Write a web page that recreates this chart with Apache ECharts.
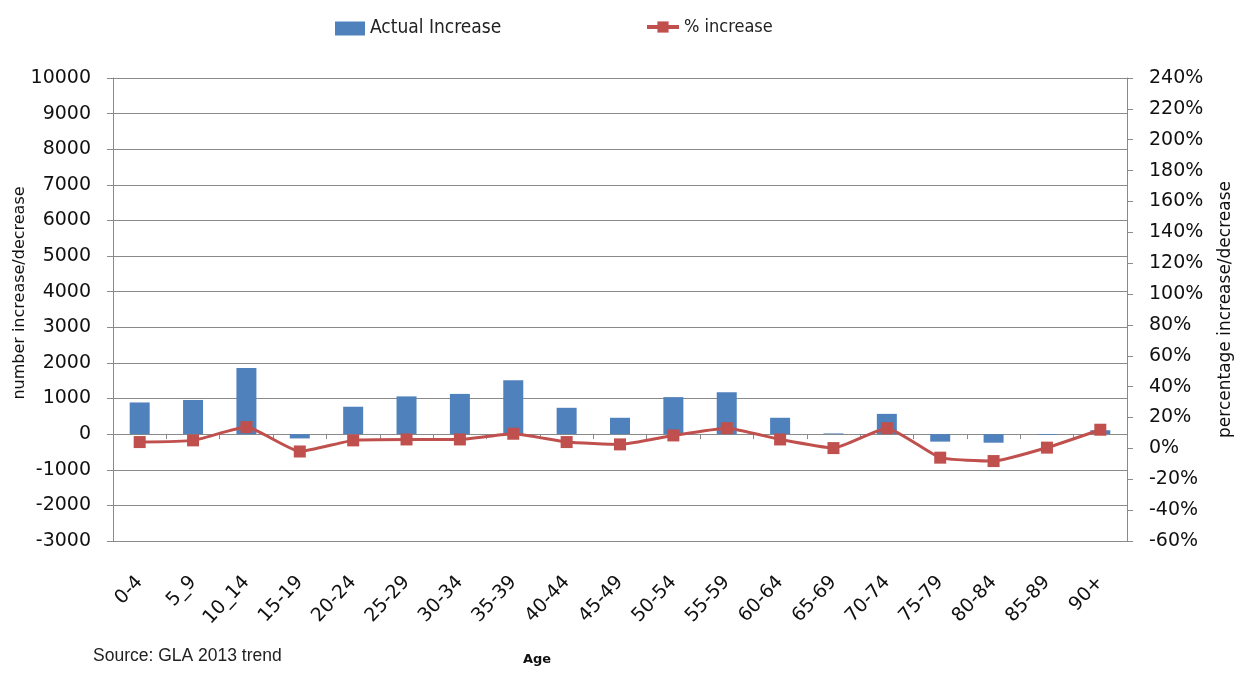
<!DOCTYPE html>
<html>
<head>
<meta charset="utf-8">
<script src="https://cdn.jsdelivr.net/npm/echarts@6/dist/echarts.min.js"></script>
<style>
  html, body { margin: 0; padding: 0; background: #fff; }
  #chart { width: 1241px; height: 675px; }
</style>
</head>
<body>
<div id="chart"></div>
<script>
'use strict';

var ageGroups = ['0-4', '5_9', '10_14', '15-19', '20-24', '25-29', '30-34', '35-39', '40-44', '45-49',
  '50-54', '55-59', '60-64', '65-69', '70-74', '75-79', '80-84', '85-89', '90+'];
var actualIncrease = [890, 960, 1860, -120, 770, 1060, 1130, 1510, 740, 460,
  1040, 1180, 460, 20, 570, -210, -240, -20, 110];
var pctIncrease = [4.1, 5.2, 13.8, -2.0, 5.2, 5.8, 5.8, 9.5, 4.1, 2.6,
  8.4, 13.1, 5.8, 0.2, 13.1, -6.0, -8.2, 0.5, 12.1];

var FONT = "'DejaVu Sans', sans-serif";
var NARROW = "'DejaVu Sans Condensed', 'DejaVu Sans', sans-serif";
var BLUE = '#4f81bd';
var RED = '#c0504d';
var GRID = '#8a8a8a';

var chart = echarts.init(document.getElementById('chart'));
var option = {
  backgroundColor: '#fff',
  textStyle: { fontFamily: FONT },
  legend: [
    {
      left: 330, top: 14,
      itemWidth: 30, itemHeight: 14,
      textStyle: { fontFamily: NARROW, fontSize: 19, color: '#222' },
      data: [{ name: 'Actual Increase', icon: 'rect' }]
    },
    {
      left: 640, top: 13,
      itemWidth: 32, itemHeight: 14,
      lineStyle: { width: 4 },
      textStyle: { fontFamily: NARROW, fontSize: 18, color: '#222' },
      data: ['% increase']
    }
  ],
  grid: { left: 113, right: 114, top: 78, bottom: 134, outerBoundsMode: 'none', containLabel: false },
  graphic: [
    {
      type: 'text', x: 20, y: 293, rotation: Math.PI / 2,
      style: { text: 'number increase/decrease', font: '16px ' + FONT, fill: '#111',
        align: 'center', verticalAlign: 'middle' }
    },
    {
      type: 'text', left: 93, top: 647,
      style: { text: 'Source: GLA 2013 trend', font: '17.5px "Liberation Sans", Arial, sans-serif', fill: '#222' }
    },
    {
      type: 'text', left: 523, top: 653,
      style: { text: 'Age', font: 'bold 13px ' + FONT, fill: '#111' }
    }
  ],
  xAxis: [
    {
      type: 'category',
      data: ageGroups,
      position: 'bottom',
      axisLine: { onZero: false, lineStyle: { color: GRID } },
      axisTick: { show: false },
      axisLabel: { rotate: 47, fontSize: 19, color: '#111', margin: 38, fontFamily: FONT }
    },
    {
      type: 'category',
      data: ageGroups,
      position: 'bottom',
      axisLine: { onZero: true, lineStyle: { color: GRID } },
      axisTick: { show: true, length: 5, lineStyle: { color: GRID } },
      axisLabel: { show: false }
    }
  ],
  yAxis: [
    {
      type: 'value',
      min: -3000, max: 10000, interval: 1000,
      axisLine: { show: true, lineStyle: { color: GRID } },
      axisTick: { show: true, length: 6, lineStyle: { color: GRID } },
      axisLabel: { fontSize: 19, color: '#111', margin: 22, fontFamily: FONT,
        formatter: function (v) { return String(v); } },
      splitLine: { show: true, lineStyle: { color: GRID, width: 1 } }
    },
    {
      type: 'value',
      min: -60, max: 240, interval: 20,
      name: 'percentage increase/decrease',
      nameLocation: 'middle',
      nameGap: 90,
      nameRotate: 90,
      nameTextStyle: { fontSize: 17, color: '#111', fontFamily: FONT },
      axisLine: { show: true, lineStyle: { color: GRID } },
      axisTick: { show: true, length: 6, lineStyle: { color: GRID } },
      axisLabel: { fontSize: 19, color: '#111', margin: 22, formatter: '{value}%', fontFamily: FONT },
      splitLine: { show: false }
    }
  ],
  series: [
    {
      name: 'Actual Increase',
      type: 'bar',
      yAxisIndex: 0,
      barWidth: 20,
      itemStyle: { color: BLUE },
      data: actualIncrease
    },
    {
      name: '% increase',
      type: 'line',
      yAxisIndex: 1,
      smooth: 0.15,
      symbol: 'rect',
      symbolSize: 12,
      lineStyle: { color: RED, width: 3 },
      itemStyle: { color: RED },
      data: pctIncrease
    }
  ]
};
chart.setOption(option);
</script>
</body>
</html>
